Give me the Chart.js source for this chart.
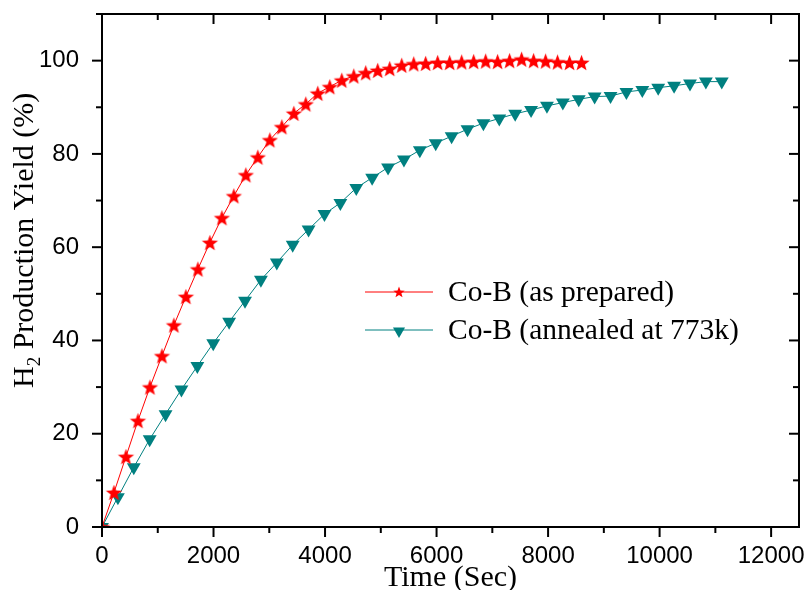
<!DOCTYPE html>
<html>
<head>
<meta charset="utf-8">
<script src="https://cdn.jsdelivr.net/npm/chart.js@4"></script>
<style>
  html, body { margin: 0; padding: 0; background: #fff; }
  #grafico { display: block; }
</style>
</head>
<body>
<canvas id="grafico" width="808" height="590"></canvas>
<script>
// ── Dados ──
const tempoPreparado = [0, 215, 430, 645, 860, 1075, 1290, 1505, 1720, 1935, 2150, 2365, 2580, 2795,
    3010, 3225, 3440, 3655, 3870, 4085, 4300, 4515, 4730, 4945, 5160, 5375, 5590, 5805, 6020,
    6235, 6450, 6665, 6880, 7095, 7310, 7525, 7740, 7955, 8170, 8385, 8600];
const yieldPreparado = [0, 7.4, 15.1, 22.8, 30.0, 36.7, 43.3, 49.4, 55.3, 61.0, 66.3, 71.0, 75.5, 79.3,
    83.0, 85.8, 88.7, 90.7, 93.0, 94.4, 95.8, 96.7, 97.4, 97.9, 98.3, 99.0, 99.3, 99.4, 99.6,
    99.6, 99.7, 99.8, 99.9, 99.8, 100.0, 100.3, 100.0, 99.9, 99.7, 99.6, 99.6];

const tempoRecozido = [0, 285, 570, 855, 1140, 1425, 1710, 1995, 2280, 2565, 2850, 3135, 3420, 3705,
    3990, 4275, 4560, 4845, 5130, 5415, 5700, 5985, 6270, 6555, 6840, 7125, 7410, 7695, 7980,
    8265, 8550, 8835, 9120, 9405, 9690, 9975, 10260, 10545, 10830, 11115];
const yieldRecozido = [0, 6.4, 12.8, 18.8, 24.2, 29.5, 34.5, 39.4, 44.0, 48.5, 53.0, 56.7, 60.5, 63.8,
    67.1, 69.5, 72.7, 74.9, 77.1, 78.8, 80.8, 82.3, 83.8, 85.3, 86.6, 87.6, 88.6, 89.4, 90.3,
    91.0, 91.7, 92.3, 92.4, 93.3, 93.7, 94.2, 94.6, 95.1, 95.5, 95.5];

const rotulos  = ["Co-B (as prepared)", "Co-B (annealed at 773k)"];
const ticksX   = [0, 2000, 4000, 6000, 8000, 10000, 12000];
const ticksY   = [0, 20, 40, 60, 80, 100];

const COR_VERMELHO = "#FF0000";
const COR_TEAL     = "#008080";
const SERIF = "'Liberation Serif', 'Times New Roman', serif";
const SANS  = "'Liberation Sans', Arial, sans-serif";

// ── Marcador estrela (canvas) ──
function criarEstrela(raio, cor) {
    const tam = Math.ceil(raio * 2 + 2);
    const c = document.createElement("canvas");
    c.width = tam; c.height = tam;
    const g = c.getContext("2d");
    desenharEstrela(g, tam / 2, tam / 2 + raio * 0.1, raio, cor);
    return c;
}

function desenharEstrela(g, cx, cy, raio, cor) {
    const interno = raio * 0.42;
    g.beginPath();
    for (let i = 0; i < 10; i++) {
        const r = i % 2 === 0 ? raio : interno;
        const ang = -Math.PI / 2 + i * Math.PI / 5;
        const px = cx + r * Math.cos(ang);
        const py = cy + r * Math.sin(ang);
        if (i === 0) g.moveTo(px, py); else g.lineTo(px, py);
    }
    g.closePath();
    g.fillStyle = cor;
    g.fill();
}

function desenharTriangulo(g, cx, cy, r, cor) {
    g.beginPath();
    g.moveTo(cx - r * 0.866, cy - r * 0.5);
    g.lineTo(cx + r * 0.866, cy - r * 0.5);
    g.lineTo(cx, cy + r);
    g.closePath();
    g.fillStyle = cor;
    g.fill();
}

const estrela = criarEstrela(8.5, COR_VERMELHO);

// ── Moldura, ticks, títulos e legenda ──
const moldura = {
    id: "moldura",
    afterDraw(chart) {
        const { ctx, chartArea: a, scales: { x, y } } = chart;
        ctx.save();
        ctx.strokeStyle = "#000";
        ctx.lineWidth = 2;
        ctx.strokeRect(a.left, a.top, a.right - a.left, a.bottom - a.top);

        const linha = (x1, y1, x2, y2) => {
            ctx.beginPath(); ctx.moveTo(x1, y1); ctx.lineTo(x2, y2); ctx.stroke();
        };

        // x: maiores e menores
        const passoX = ticksX[1] - ticksX[0];
        for (let v = 0; v <= ticksX[ticksX.length - 1]; v += passoX / 2) {
            const px = x.getPixelForValue(v);
            const len = v % passoX === 0 ? 10 : 6;
            linha(px, a.bottom, px, a.bottom + len);
            linha(px, a.top, px, a.top + len);
        }
        // y
        const passoY = ticksY[1] - ticksY[0];
        for (let v = 0; v <= y.max; v += passoY / 2) {
            const py = y.getPixelForValue(v);
            const len = v % passoY === 0 ? 10 : 6;
            linha(a.left - len, py, a.left, py);
            linha(a.right - len, py, a.right, py);
        }

        // título eixo x
        ctx.fillStyle = "#000";
        ctx.font = `30px ${SERIF}`;
        ctx.textAlign = "center";
        ctx.textBaseline = "alphabetic";
        ctx.fillText("Time (Sec)", (a.left + a.right) / 2, 586);

        // título eixo y (com subscrito)
        ctx.save();
        ctx.translate(33, 388);
        ctx.rotate(-Math.PI / 2);
        ctx.textAlign = "left";
        ctx.font = `30px ${SERIF}`;
        ctx.fillText("H", 0, 0);
        let off = ctx.measureText("H").width;
        ctx.font = `19px ${SERIF}`;
        ctx.fillText("2", off, 7);
        off += ctx.measureText("2").width;
        ctx.font = `30px ${SERIF}`;
        ctx.fillText(" Production Yield (%)", off, 0);
        ctx.restore();

        // legenda
        const itens = [
            { y: 292, cor: COR_VERMELHO, tipo: "estrela" },
            { y: 330, cor: COR_TEAL, tipo: "triangulo" },
        ];
        itens.forEach((it, i) => {
            ctx.strokeStyle = it.cor;
            ctx.lineWidth = 1;
            linha(365, it.y, 433, it.y);
            if (it.tipo === "estrela") desenharEstrela(ctx, 399, it.y + 0.5, 6, it.cor);
            else desenharTriangulo(ctx, 399, it.y + 1, 7, it.cor);
            ctx.fillStyle = "#000";
            ctx.font = `29.5px ${SERIF}`;
            ctx.textAlign = "left";
            ctx.textBaseline = "alphabetic";
            ctx.fillText(rotulos[i], 448, it.y + 9);
        });
        ctx.restore();
    }
};

new Chart(document.getElementById("grafico"), {
    type: "line",
    data: {
        datasets: [
            {
                label: rotulos[0],
                data: tempoPreparado.map((t, i) => ({ x: t, y: yieldPreparado[i] })),
                borderColor: COR_VERMELHO,
                backgroundColor: COR_VERMELHO,
                borderWidth: 1,
                pointStyle: estrela,
                pointRadius: 8,
                tension: 0,
            },
            {
                label: rotulos[1],
                data: tempoRecozido.map((t, i) => ({ x: t, y: yieldRecozido[i] })),
                borderColor: COR_TEAL,
                backgroundColor: COR_TEAL,
                borderWidth: 1,
                pointStyle: "triangle",
                rotation: 180,
                pointRadius: 8,
                pointBorderWidth: 0,
                tension: 0,
            },
        ]
    },
    options: {
        responsive: false,
        animation: false,
        layout: { padding: { top: 14, right: 8, left: 0, bottom: 0 } },
        plugins: {
            legend: { display: false },
            tooltip: { enabled: false },
        },
        scales: {
            x: {
                type: "linear",
                min: 0, max: 12500,
                afterBuildTicks: s => { s.ticks = ticksX.map(v => ({ value: v })); },
                afterFit: s => { s.height = 63; s.paddingLeft = 0; s.paddingRight = 0; },
                grid: { display: false },
                border: { display: false },
                ticks: {
                    color: "#000", font: { family: SANS, size: 24 }, padding: 7, maxRotation: 0,
                    callback: v => String(v),
                },
            },
            y: {
                type: "linear",
                min: 0, max: 110,
                afterBuildTicks: s => { s.ticks = ticksY.map(v => ({ value: v })); },
                afterFit: s => { s.width = 102; s.paddingTop = 0; s.paddingBottom = 0; },
                grid: { display: false },
                border: { display: false },
                ticks: {
                    color: "#000", font: { family: SANS, size: 24 }, padding: 15,
                    callback: v => String(v),
                },
            }
        }
    },
    plugins: [moldura]
});
</script>
</body>
</html>
